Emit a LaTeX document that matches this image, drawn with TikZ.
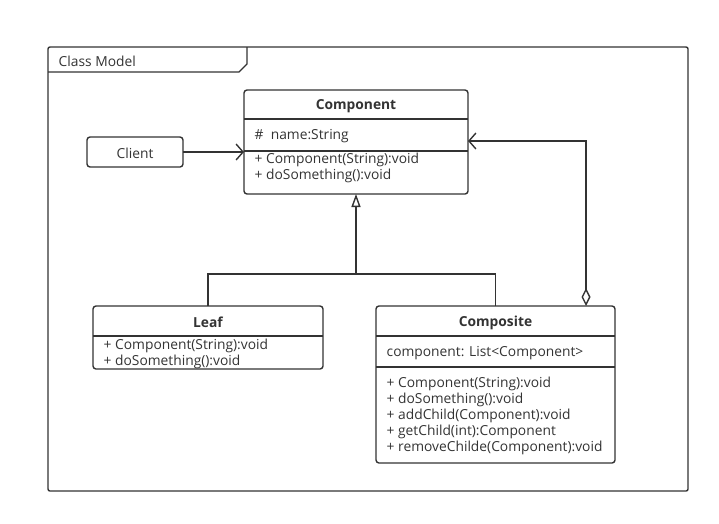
\documentclass[tikz,border=0pt]{standalone}
\usepackage{fontspec}
\setmainfont{Open Sans}
\usetikzlibrary{arrows.meta, positioning, calc}
\definecolor{umlgray}{RGB}{51,51,51}

\begin{document}
\begin{tikzpicture}[x=1pt, y=-1pt, line width=1.4pt, draw=umlgray, text=umlgray,
    font=\fontsize{13.8}{15}\selectfont,
    classbox/.style={draw, rounded corners=3pt, inner sep=0pt, outer sep=0pt},
    member/.style={anchor=west, inner sep=0pt, yshift=-1.5pt},
    title/.style={font=\fontsize{13.8}{15}\selectfont\bfseries, inner sep=0pt, yshift=-1.5pt}]
    \useasboundingbox (0,0) rectangle (719,523);

    % Frame
    \draw[rounded corners=2pt] (48,47) rectangle (688,491);
    \draw (48,72) -- (239,72) -- (247,64) -- (247,47);
    \node[member] (frame-label) at (58,60) {Class Model};

    % Classes
    \node[classbox, minimum width=224pt, minimum height=104pt] (component) at (356,142) {};
    \node[classbox, minimum width=96pt, minimum height=30pt] (client) at (135,152) {};
    \node[classbox, minimum width=230pt, minimum height=63pt] (leaf) at (208,337.5) {};
    \node[classbox, minimum width=239pt, minimum height=157pt] (composite) at (495.5,384.5) {};

    % Compartments
    \draw (component.west |- 0,119) -- (component.east |- 0,119);
    \draw (component.west |- 0,151) -- (component.east |- 0,151);
    \draw (leaf.west |- 0,336) -- (leaf.east |- 0,336);
    \draw (composite.west |- 0,336) -- (composite.east |- 0,336);
    \draw (composite.west |- 0,367) -- (composite.east |- 0,367);

    % Texts
    \node[inner sep=0pt, yshift=-1.5pt] (client-name) at (client) {Client};
    \node[title] (component-title) at (356,105) {Component};
    \node[member] (component-attr) at (254,135) {\#\ \ name:String};
    \node[member] (component-op1) at (254,158) {+ Component(String):void};
    \node[member] (component-op2) at (254,174) {+ doSomething():void};
    \node[title] (leaf-title) at (208,321) {Leaf};
    \node[member] (leaf-op1) at (103,344) {+ Component(String):void};
    \node[member] (leaf-op2) at (103,360) {+ doSomething():void};
    \node[title] (composite-title) at (495.5,321) {Composite};
    \node[member] (composite-attr) at (386,352) {component: List<Component>};
    \node[member] (composite-op1) at (386,382) {+ Component(String):void};
    \node[member] (composite-op2) at (386,398) {+ doSomething():void};
    \node[member] (composite-op3) at (386,414) {+ addChild(Component):void};
    \node[member] (composite-op4) at (386,430) {+ getChild(int):Component};
    \node[member] (composite-op5) at (386,446) {+ removeChilde(Component):void};

    % Association
    \draw[-{Straight Barb[length=7pt, width=16pt]}] (client.east) -- (client.east -| component.west);

    % Generalization
    \coordinate (joint) at (356,274);
    \draw (leaf.north) |- (joint) -| (composite.north);
    \draw[-{Triangle[open, length=13pt, width=9pt]}] (joint) -- (component.south);

    % Aggregation
    \coordinate (whole) at ([xshift=90.5pt]composite.north);
    \coordinate (part) at ([yshift=1pt]component.east);
    \draw[{Diamond[open, length=18pt, width=9pt]}-{Straight Barb[length=7pt, width=16pt]}] (whole) |- (part);
\end{tikzpicture}
\end{document}
